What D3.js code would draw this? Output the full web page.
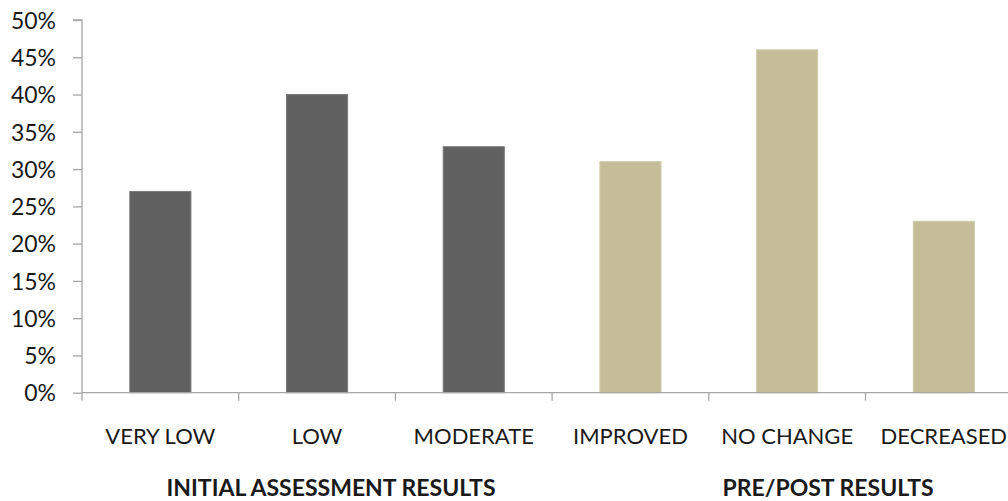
<!DOCTYPE html>
<html>
<head>
<meta charset="utf-8">
<script src="https://cdn.jsdelivr.net/npm/d3@7"></script>
<style>
  html, body { margin: 0; padding: 0; background: #fff; }
  svg { display: block; }
  text { font-family: Lato, "Open Sans", sans-serif; fill: #1a1a1a; }
</style>
</head>
<body>
<svg id="chart" width="1008" height="501"></svg>
<script>
// Category labels and their percentages
const categories = ["VERY LOW", "LOW", "MODERATE", "IMPROVED", "NO CHANGE", "DECREASED"];
const values = [27, 40, 33, 31, 46, 23];
// Which group each category belongs to
const groups = ["initial", "initial", "initial", "prepost", "prepost", "prepost"];
const groupTitles = ["INITIAL ASSESSMENT RESULTS", "PRE/POST RESULTS"];
const yTicks = [0, 5, 10, 15, 20, 25, 30, 35, 40, 45, 50];

const colors = { initial: "#616161", prepost: "#c4bd97" };
const strokes = { initial: "#7a7a7a", prepost: "#d2ccac" };

const svg = d3.select("#chart");
const x0 = 82, y0 = 392.7, yTop = 20;
const band = 156.7;

const x = d3.scaleBand()
  .domain(categories)
  .range([x0, x0 + band * categories.length])
  .paddingInner(0.61)
  .paddingOuter(0.305);

const y = d3.scaleLinear().domain([0, 50]).range([y0, yTop]);

// Bars
svg.append("g").selectAll("rect")
  .data(categories)
  .join("rect")
  .attr("x", d => x(d))
  .attr("width", x.bandwidth())
  .attr("y", (d, i) => y(values[i]))
  .attr("height", (d, i) => y0 - y(values[i]))
  .attr("fill", (d, i) => colors[groups[i]])
  .attr("stroke", (d, i) => strokes[groups[i]])
  .attr("stroke-width", 1);

// Y axis
const yAxis = d3.axisLeft(y)
  .tickValues(yTicks)
  .tickFormat(d => d + "%")
  .tickSize(9)
  .tickPadding(17);
const gy = svg.append("g").attr("transform", `translate(${x0},0)`).call(yAxis);
gy.select(".domain").attr("stroke", "#a6a6a6").attr("stroke-width", 1.3)
  .attr("d", `M-9,${yTop}H0V${y0}`);
gy.selectAll(".tick line").attr("stroke", "#a6a6a6").attr("stroke-width", 1.3);
gy.selectAll(".tick text")
  .style("font-size", "23px")
  .style("font-family", "Lato, sans-serif")
  .attr("fill", "#1a1a1a")
  .attr("dy", "0.36em");

// X axis baseline with ticks between categories
const gx = svg.append("g");
gx.append("line")
  .attr("x1", x0).attr("x2", 1008)
  .attr("y1", y0).attr("y2", y0)
  .attr("stroke", "#a6a6a6").attr("stroke-width", 1.3);
const boundaries = d3.range(categories.length + 1).map(i => x0 + band * i);
gx.selectAll("line.tk")
  .data(boundaries.filter(b => b <= 1008))
  .join("line")
  .attr("class", "tk")
  .attr("x1", d => d).attr("x2", d => d)
  .attr("y1", y0).attr("y2", y0 + 8)
  .attr("stroke", "#a6a6a6").attr("stroke-width", 1.3);

// Category labels
gx.selectAll("text.cat")
  .data(categories)
  .join("text")
  .attr("class", "cat")
  .attr("x", d => x(d) + x.bandwidth() / 2)
  .attr("y", 444)
  .attr("text-anchor", "middle")
  .style("font-size", "22px")
  .text(d => d);

// Group titles
const titlePos = [331, 828];
svg.selectAll("text.grp")
  .data(groupTitles)
  .join("text")
  .attr("class", "grp")
  .attr("x", (d, i) => titlePos[i])
  .attr("y", 496)
  .attr("text-anchor", "middle")
  .style("font-size", "23px")
  .style("font-weight", "bold")
  .text(d => d);
</script>
</body>
</html>
